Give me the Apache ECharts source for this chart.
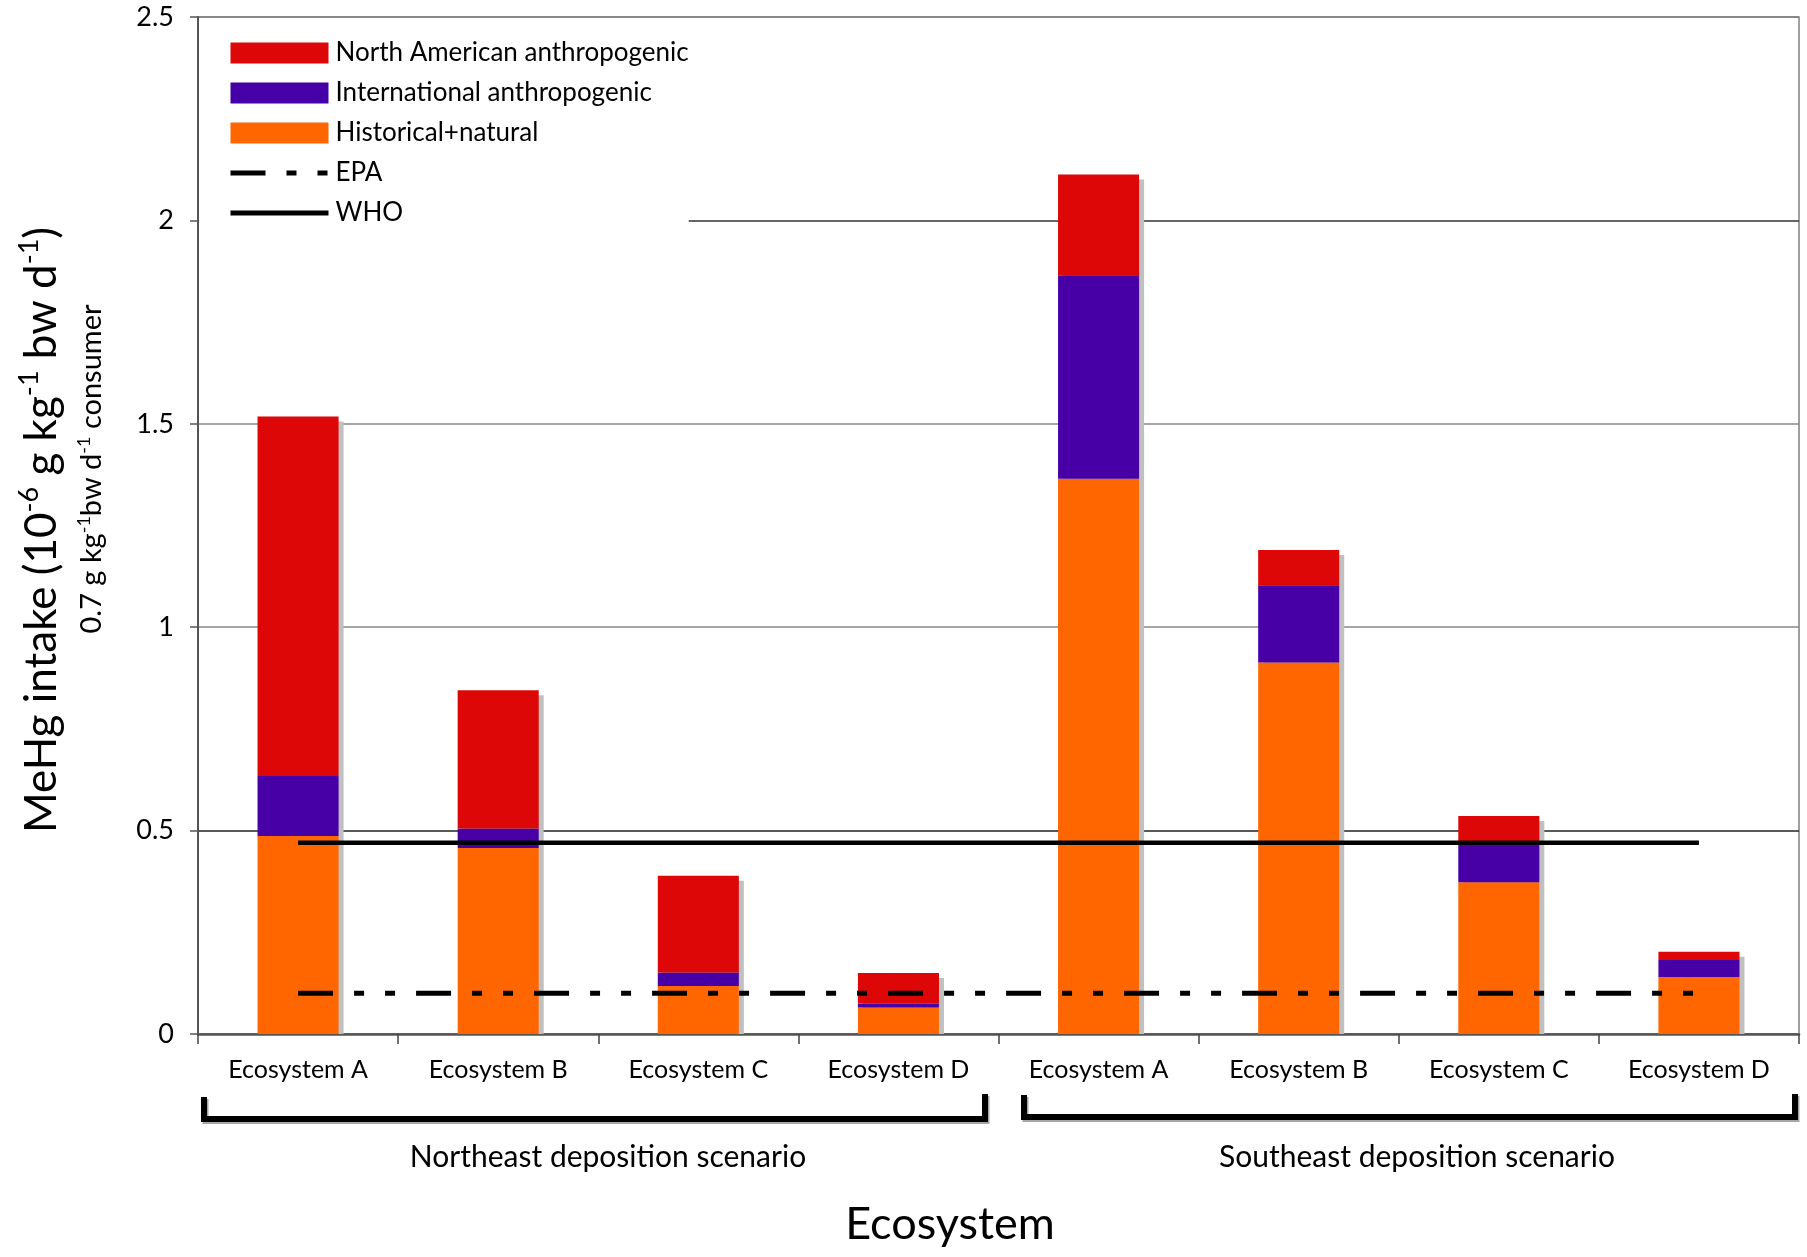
<!DOCTYPE html>
<html>
<head>
<meta charset="utf-8">
<script src="https://cdn.jsdelivr.net/npm/echarts@6/dist/echarts.min.js"></script>
<style>html,body{margin:0;padding:0;background:#fff;}#c{width:1807px;height:1257px;}</style>
</head>
<body>
<div id="c"></div>
<script>
const categories = ['Ecosystem A','Ecosystem B','Ecosystem C','Ecosystem D','Ecosystem A','Ecosystem B','Ecosystem C','Ecosystem D'];
const historicalNatural = [0.487, 0.457, 0.118, 0.065, 1.365, 0.913, 0.373, 0.140];
const international = [0.147, 0.048, 0.033, 0.010, 0.500, 0.190, 0.097, 0.042];
const northAmerican = [0.884, 0.340, 0.238, 0.075, 0.248, 0.087, 0.066, 0.020];
const whoLimit = 0.47;
const epaLimit = 0.1;
const yTicks = [0, 0.5, 1, 1.5, 2, 2.5];
const groupLabels = ['Northeast deposition scenario', 'Southeast deposition scenario'];

const FONT = 'Lato';
const totals = categories.map((c, i) => [i, historicalNatural[i] + international[i] + northAmerican[i]]);

const chart = echarts.init(document.getElementById('c'), null, {renderer: 'canvas'});
chart.setOption({
  backgroundColor: '#fff',
  animation: false,
  textStyle: {fontFamily: FONT},
  grid: {left: 198, top: 17, right: 8, bottom: 223, show: true, borderColor: '#808080', borderWidth: 1.5, containLabel: false},
  legend: {
    orient: 'vertical', left: 199, top: 20,
    padding: [20, 0, 8, 29],
    backgroundColor: '#fff',
    itemWidth: 98, itemHeight: 21, itemGap: 14,
    textStyle: {fontFamily: FONT, fontSize: 26, lineHeight: 26, color: '#000', padding: [0,0,0,2]},
    data: [
      {name: 'North American anthropogenic', icon: 'rect'},
      {name: 'International anthropogenic', icon: 'rect'},
      {name: 'Historical+natural', icon: 'rect'},
      {name: 'EPA', itemStyle: {opacity: 0}, lineStyle: {width: 5}},
      {name: 'WHO', itemStyle: {opacity: 0}, lineStyle: {width: 5}}
    ]
  },
  xAxis: {
    type: 'category', data: categories,
    axisLine: {lineStyle: {color: '#555', width: 2.5}},
    axisTick: {show: true, length: 10, lineStyle: {color: '#444', width: 1.5}},
    axisLabel: {fontFamily: FONT, fontSize: 25, color: '#000', margin: 23},
    splitLine: {show: false}
  },
  yAxis: {
    type: 'value', min: 0, max: 2.5, interval: 0.5,
    axisLine: {show: true, lineStyle: {color: '#555', width: 2}},
    axisTick: {show: true, length: 8, lineStyle: {color: '#555', width: 1.5}},
    axisLabel: {fontFamily: FONT, fontSize: 27, color: '#000', margin: 24,
      formatter: v => { const t = yTicks.find(x => Math.abs(x - v) < 1e-9); return String(t !== undefined ? t : v); }},
    splitLine: {show: true, lineStyle: {color: ['#666', '#222', '#888', '#888', '#333', '#808080'], width: 1.5}}
  },
  series: [
    {
      type: 'custom', name: 'shadow', z: 1, silent: true,
      data: totals,
      encode: {x: 0, y: 1},
      renderItem: function (params, api) {
        const top = api.coord([api.value(0), api.value(1)]);
        const base = api.coord([api.value(0), 0]);
        const w = api.size([1, 0])[0] * 0.405;
        return {
          type: 'rect',
          shape: {x: top[0] - w / 2 + 5, y: top[1] + 5, width: w, height: base[1] - top[1] - 5},
          style: {fill: '#c0c0c0'}
        };
      }
    },
    {type: 'bar', name: 'Historical+natural', stack: 'total', data: historicalNatural, barWidth: '40.5%', z: 2,
      itemStyle: {color: '#ff6600'}},
    {type: 'bar', name: 'International anthropogenic', stack: 'total', data: international, barWidth: '40.5%', z: 2,
      itemStyle: {color: '#4700a6'}},
    {type: 'bar', name: 'North American anthropogenic', stack: 'total', data: northAmerican, barWidth: '40.5%', z: 2,
      itemStyle: {color: '#dd0707'}},
    {type: 'line', name: 'EPA', data: categories.map(() => epaLimit), symbol: 'none', z: 3,
      itemStyle: {color: '#000'},
      lineStyle: {color: '#000', width: 5, type: [35, 21, 10, 21, 10, 21], cap: 'butt'}},
    {type: 'line', name: 'WHO', data: categories.map(() => whoLimit), symbol: 'none', z: 3,
      itemStyle: {color: '#000'},
      lineStyle: {color: '#000', width: 4.5}}
  ],
  graphic: [
    {type: 'text', x: 42, y: 530, rotation: Math.PI / 2, z: 10,
      style: {
        text: '{a|MeHg intake (10}{s|-6}{a| g kg}{s|-1}{a| bw d}{s|-1}{a|)}',
        align: 'center', verticalAlign: 'middle',
        rich: {
          a: {fontFamily: FONT, fontSize: 44, lineHeight: 52, color: '#000'},
          s: {fontFamily: FONT, fontSize: 27, lineHeight: 52, verticalAlign: 'top', color: '#000'}
        }
      }},
    {type: 'text', x: 92, y: 469, rotation: Math.PI / 2, z: 10,
      style: {
        text: '{a|0.7 g kg}{s|-1}{a|bw d}{s|-1}{a| consumer}',
        align: 'center', verticalAlign: 'middle',
        rich: {
          a: {fontFamily: FONT, fontSize: 29, lineHeight: 33, color: '#000'},
          s: {fontFamily: FONT, fontSize: 18, lineHeight: 33, verticalAlign: 'top', color: '#000'}
        }
      }},
    {type: 'polyline', z: 10, shape: {points: [[204, 1097], [204, 1119], [985, 1119], [985, 1094]]},
      style: {stroke: '#000', lineWidth: 6, fill: null, shadowColor: 'rgba(0,0,0,0.35)', shadowOffsetX: 1.5, shadowOffsetY: 2}},
    {type: 'polyline', z: 10, shape: {points: [[1024, 1095], [1024, 1117], [1795, 1117], [1795, 1094]]},
      style: {stroke: '#000', lineWidth: 6, fill: null, shadowColor: 'rgba(0,0,0,0.35)', shadowOffsetX: 1.5, shadowOffsetY: 2}},
    {type: 'text', x: 608, y: 1157, z: 10,
      style: {text: groupLabels[0], fontFamily: FONT, fontSize: 30, fill: '#000', align: 'center', verticalAlign: 'middle'}},
    {type: 'text', x: 1417, y: 1157, z: 10,
      style: {text: groupLabels[1], fontFamily: FONT, fontSize: 30, fill: '#000', align: 'center', verticalAlign: 'middle'}},
    {type: 'text', x: 950, y: 1224, z: 10,
      style: {text: 'Ecosystem', fontFamily: FONT, fontSize: 45, fill: '#000', align: 'center', verticalAlign: 'middle'}}
  ]
});
</script>
</body>
</html>
